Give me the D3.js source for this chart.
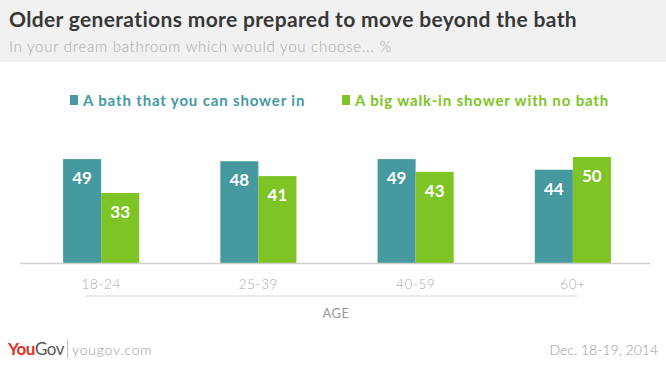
<!DOCTYPE html>
<html>
<head>
<meta charset="utf-8">
<script src="https://cdn.jsdelivr.net/npm/d3@7"></script>
<style>
  html, body { margin: 0; padding: 0; background: #fff; }
  svg { display: block; font-family: Lato, "Open Sans", sans-serif; }
</style>
</head>
<body>
<svg id="chart" width="666" height="366"></svg>
<script>
const categories = ['18-24', '25-39', '40-59', '60+'];
const seriesNames = ['A bath that you can shower in', 'A big walk-in shower with no bath'];
const bathValues = [49, 48, 49, 44];
const showerValues = [33, 41, 43, 50];
const seriesColors = ['#45999f', '#7dc424'];

const svg = d3.select('#chart');
const W = 666, H = 366;

// header band
svg.append('rect').attr('x', 0).attr('y', 0).attr('width', W).attr('height', 62).attr('fill', '#f1f1f1');
svg.append('text')
    .attr('x', 9).attr('y', 27)
    .attr('font-size', 21).attr('font-weight', 700).attr('fill', '#383838')
    .attr('letter-spacing', 0.35)
    .text('Older generations more prepared to move beyond the bath');
svg.append('text')
    .attr('x', 9).attr('y', 52)
    .attr('font-size', 15).attr('font-weight', 300).attr('fill', '#a8a8a8')
    .attr('letter-spacing', 0.75)
    .text('In your dream bathroom which would you choose... %');

// legend
const legendX = [70, 342];
seriesNames.forEach((name, i) => {
    const g = svg.append('g').attr('transform', `translate(${legendX[i]},100)`);
    g.append('rect').attr('x', 0).attr('y', -5).attr('width', 8).attr('height', 10).attr('fill', seriesColors[i]);
    g.append('text').attr('x', 13).attr('y', 5.5)
        .attr('font-size', 15).attr('font-weight', 700).attr('fill', seriesColors[i])
        .attr('letter-spacing', 0.85)
        .text(name);
});

// scales
const x0 = d3.scaleBand().domain(categories).range([23, 651]).paddingInner(0.516).paddingOuter(0.255);
const x1 = d3.scaleBand().domain([0, 1]).range([0, x0.bandwidth()]);
const y = d3.scaleLinear().domain([0, 50]).range([263, 157]);

const rows = categories.map((c, i) => ({ cat: c, vals: [bathValues[i], showerValues[i]] }));

const groups = svg.selectAll('.grp').data(rows).enter().append('g')
    .attr('class', 'grp')
    .attr('transform', d => `translate(${x0(d.cat)},0)`);

groups.selectAll('rect').data(d => d.vals.map((v, i) => ({ v, i }))).enter().append('rect')
    .attr('x', d => x1(d.i))
    .attr('y', d => y(d.v))
    .attr('width', x1.bandwidth())
    .attr('height', d => y(0) - y(d.v))
    .attr('fill', d => seriesColors[d.i]);

groups.selectAll('text.val').data(d => d.vals.map((v, i) => ({ v, i }))).enter().append('text')
    .attr('class', 'val')
    .attr('x', d => x1(d.i) + x1.bandwidth() / 2)
    .attr('y', d => y(d.v) + 25)
    .attr('text-anchor', 'middle')
    .attr('font-size', 17).attr('font-weight', 700).attr('fill', '#fff')
    .text(d => d.v);

// x axis
const xAxis = svg.append('g').attr('transform', `translate(0,${y(0)})`)
    .call(d3.axisBottom(x0).tickSize(0).tickPadding(16));
xAxis.select('.domain').attr('stroke', '#cfcfcf').attr('stroke-width', 1.5).attr('d', 'M20,0.5H650');
xAxis.selectAll('text').attr('font-size', 13.5).attr('fill', '#aaa')
    .attr('font-family', 'Lato, sans-serif').attr('font-weight', 300).attr('letter-spacing', 0.6);

svg.append('line').attr('x1', 85).attr('x2', 577).attr('y1', 296).attr('y2', 296)
    .attr('stroke', '#d6d6d6').attr('stroke-width', 1);
svg.append('text').attr('x', 336).attr('y', 318).attr('text-anchor', 'middle')
    .attr('font-size', 13).attr('fill', '#999').attr('letter-spacing', 0.5).text('AGE');

// footer
const logo = svg.append('text').attr('x', 8).attr('y', 355).attr('font-size', 17).attr('font-weight', 700)
    .attr('letter-spacing', -0.5);
logo.append('tspan').attr('fill', '#e0301e').text('You');
logo.append('tspan').attr('fill', '#555').attr('font-weight', 400).text('Gov');
svg.append('line').attr('x1', 67.5).attr('x2', 67.5).attr('y1', 340).attr('y2', 358).attr('stroke', '#bbb');
svg.append('text').attr('x', 72).attr('y', 355).attr('font-size', 14).attr('font-weight', 300).attr('fill', '#999')
    .attr('letter-spacing', 0.8)
    .text('yougov.com');
svg.append('text').attr('x', 658).attr('y', 355).attr('text-anchor', 'end').attr('font-size', 14)
    .attr('font-weight', 300).attr('fill', '#999').text('Dec. 18-19, 2014');
</script>
</body>
</html>
